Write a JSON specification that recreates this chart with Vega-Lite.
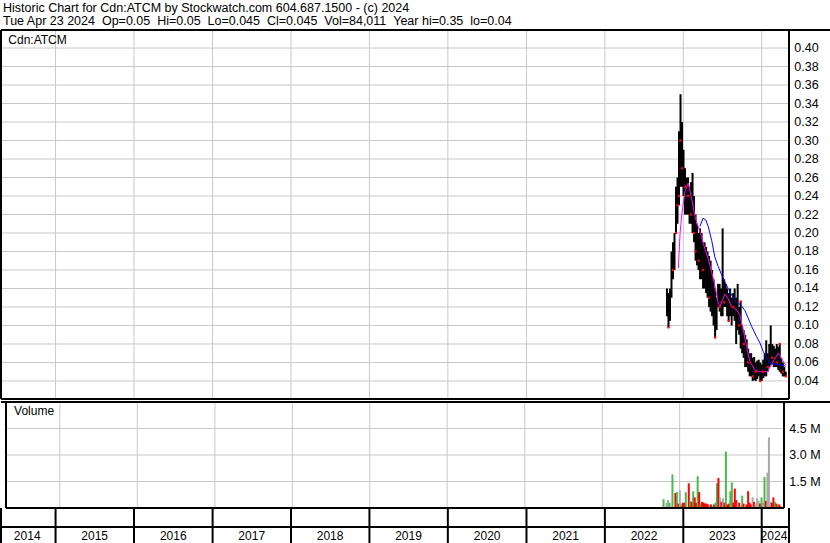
{
  "$schema": "https://vega.github.io/schema/vega-lite/v6.json",
  "background": "white",
  "padding": {"left": 0, "top": 1, "right": 0, "bottom": 0},
  "bounds": "flush",
  "title": {
    "text": ["Historic Chart for Cdn:ATCM by Stockwatch.com 604.687.1500 - (c) 2024", "Tue Apr 23 2024 \u00a0Op=0.05 \u00a0Hi=0.05 \u00a0Lo=0.045 \u00a0Cl=0.045 \u00a0Vol=84,011 \u00a0Year hi=0.35 \u00a0lo=0.04"],
    "anchor": "start", "font": "Liberation Sans", "fontSize": 12.5, "fontWeight": "normal", "color": "black", "lineHeight": 13, "offset": 2, "dx": 3
  },
  "config": {
    "view": {"stroke": null},
    "text": {"font": "Liberation Sans", "fontSize": 12, "color": "black"}
  },
  "datasets": {
    "bounds": [
      {"d":"2015-01-01"},{"d":"2016-01-01"},{"d":"2017-01-01"},{"d":"2018-01-01"},{"d":"2019-01-01"},
      {"d":"2020-01-01"},{"d":"2021-01-01"},{"d":"2022-01-01"},{"d":"2023-01-01"},{"d":"2024-01-01"}
    ],
    "pgrid": [
      {"p":0.04},{"p":0.06},{"p":0.08},{"p":0.10},{"p":0.12},{"p":0.14},{"p":0.16},{"p":0.18},{"p":0.20},{"p":0.22},
      {"p":0.24},{"p":0.26},{"p":0.28},{"p":0.30},{"p":0.32},{"p":0.34},{"p":0.36},{"p":0.38},{"p":0.40}
    ],
    "vgrid": [
      {"v":1500000,"lab":"1.5 M"},{"v":3000000,"lab":"3.0 M"},{"v":4500000,"lab":"4.5 M"}
    ],
    "bars": [
      {"d":"2022-10-17","h":0.14,"l":0.11},{"d":"2022-10-24","h":0.135,"l":0.098},{"d":"2022-10-31","h":0.14,"l":0.105},{"d":"2022-11-07","h":0.18,"l":0.13},
      {"d":"2022-11-14","h":0.19,"l":0.15},{"d":"2022-11-21","h":0.2,"l":0.16},{"d":"2022-11-28","h":0.25,"l":0.2},{"d":"2022-12-05","h":0.26,"l":0.21},
      {"d":"2022-12-12","h":0.31,"l":0.23},{"d":"2022-12-19","h":0.35,"l":0.25},{"d":"2022-12-26","h":0.32,"l":0.25},{"d":"2023-01-02","h":0.29,"l":0.24},
      {"d":"2023-01-09","h":0.27,"l":0.22},{"d":"2023-01-16","h":0.26,"l":0.22},{"d":"2023-01-23","h":0.26,"l":0.22},{"d":"2023-01-30","h":0.25,"l":0.21},
      {"d":"2023-02-06","h":0.255,"l":0.21},{"d":"2023-02-13","h":0.265,"l":0.2},{"d":"2023-02-20","h":0.24,"l":0.19},{"d":"2023-02-27","h":0.22,"l":0.17},
      {"d":"2023-03-06","h":0.21,"l":0.165},{"d":"2023-03-13","h":0.2,"l":0.16},{"d":"2023-03-20","h":0.205,"l":0.15},{"d":"2023-03-27","h":0.2,"l":0.15},
      {"d":"2023-04-03","h":0.19,"l":0.14},{"d":"2023-04-10","h":0.19,"l":0.14},{"d":"2023-04-17","h":0.185,"l":0.135},{"d":"2023-04-24","h":0.18,"l":0.13},
      {"d":"2023-05-01","h":0.175,"l":0.12},{"d":"2023-05-08","h":0.17,"l":0.115},{"d":"2023-05-15","h":0.16,"l":0.11},{"d":"2023-05-22","h":0.15,"l":0.1},
      {"d":"2023-05-29","h":0.14,"l":0.087},{"d":"2023-06-05","h":0.13,"l":0.095},{"d":"2023-06-12","h":0.145,"l":0.12},{"d":"2023-06-19","h":0.145,"l":0.115},
      {"d":"2023-06-26","h":0.14,"l":0.11},{"d":"2023-07-03","h":0.205,"l":0.11},{"d":"2023-07-10","h":0.15,"l":0.12},{"d":"2023-07-17","h":0.145,"l":0.12},
      {"d":"2023-07-24","h":0.14,"l":0.11},{"d":"2023-07-31","h":0.135,"l":0.105},{"d":"2023-08-07","h":0.14,"l":0.11},{"d":"2023-08-14","h":0.13,"l":0.1},
      {"d":"2023-08-21","h":0.135,"l":0.11},{"d":"2023-08-28","h":0.14,"l":0.105},{"d":"2023-09-04","h":0.13,"l":0.08},{"d":"2023-09-11","h":0.145,"l":0.095},
      {"d":"2023-09-18","h":0.12,"l":0.09},{"d":"2023-09-25","h":0.126,"l":0.075},{"d":"2023-10-02","h":0.1,"l":0.07},{"d":"2023-10-09","h":0.095,"l":0.065},
      {"d":"2023-10-16","h":0.09,"l":0.055},{"d":"2023-10-23","h":0.085,"l":0.055},{"d":"2023-10-30","h":0.075,"l":0.05},{"d":"2023-11-06","h":0.07,"l":0.045},
      {"d":"2023-11-13","h":0.07,"l":0.045},{"d":"2023-11-20","h":0.065,"l":0.04},{"d":"2023-11-27","h":0.066,"l":0.041},{"d":"2023-12-04","h":0.06,"l":0.04},
      {"d":"2023-12-11","h":0.062,"l":0.042},{"d":"2023-12-18","h":0.063,"l":0.045},{"d":"2023-12-25","h":0.06,"l":0.04},{"d":"2024-01-01","h":0.058,"l":0.04},
      {"d":"2024-01-08","h":0.063,"l":0.043},{"d":"2024-01-15","h":0.07,"l":0.045},{"d":"2024-01-22","h":0.084,"l":0.045},{"d":"2024-01-29","h":0.07,"l":0.05},
      {"d":"2024-02-05","h":0.08,"l":0.055},{"d":"2024-02-12","h":0.1,"l":0.057},{"d":"2024-02-19","h":0.08,"l":0.058},{"d":"2024-02-26","h":0.078,"l":0.055},
      {"d":"2024-03-04","h":0.075,"l":0.055},{"d":"2024-03-11","h":0.08,"l":0.055},{"d":"2024-03-18","h":0.077,"l":0.052},{"d":"2024-03-25","h":0.08,"l":0.05},
      {"d":"2024-04-01","h":0.065,"l":0.048},{"d":"2024-04-08","h":0.06,"l":0.045},{"d":"2024-04-15","h":0.055,"l":0.045},{"d":"2024-04-22","h":0.05,"l":0.045}
    ],
    "closes": [
      {"d":"2022-10-24","c":0.098},{"d":"2022-11-14","c":0.16},{"d":"2022-11-28","c":0.2},{"d":"2022-12-05","c":0.23},{"d":"2022-12-12","c":0.24},
      {"d":"2022-12-19","c":0.3},{"d":"2022-12-26","c":0.27},{"d":"2023-01-09","c":0.25},{"d":"2023-01-23","c":0.24},{"d":"2023-02-06","c":0.22},
      {"d":"2023-02-20","c":0.2},{"d":"2023-02-27","c":0.18},{"d":"2023-03-13","c":0.17},{"d":"2023-04-03","c":0.16},{"d":"2023-05-01","c":0.13},
      {"d":"2023-05-29","c":0.087},{"d":"2023-06-19","c":0.12},{"d":"2023-07-10","c":0.125},{"d":"2023-07-31","c":0.105},{"d":"2023-08-21","c":0.12},
      {"d":"2023-09-18","c":0.1},{"d":"2023-09-25","c":0.126},{"d":"2023-10-09","c":0.08},{"d":"2023-10-30","c":0.06},{"d":"2023-11-20","c":0.045},
      {"d":"2023-12-04","c":0.05},{"d":"2023-12-25","c":0.04},{"d":"2024-01-08","c":0.05},{"d":"2024-01-29","c":0.055},{"d":"2024-02-19","c":0.065},
      {"d":"2024-03-11","c":0.06},{"d":"2024-03-25","c":0.08},{"d":"2024-04-08","c":0.05},{"d":"2024-04-22","c":0.045}
    ],
    "ma20": [
      {"d":"2022-12-09","v":0.162},{"d":"2022-12-17","v":0.2},{"d":"2022-12-25","v":0.22},{"d":"2023-01-09","v":0.245},{"d":"2023-01-24","v":0.254},
      {"d":"2023-02-09","v":0.237},{"d":"2023-02-24","v":0.218},{"d":"2023-03-11","v":0.207},{"d":"2023-03-27","v":0.196},{"d":"2023-04-11","v":0.183},
      {"d":"2023-04-27","v":0.172},{"d":"2023-05-13","v":0.158},{"d":"2023-05-28","v":0.143},{"d":"2023-06-12","v":0.125},{"d":"2023-06-20","v":0.12},
      {"d":"2023-07-03","v":0.128},{"d":"2023-07-14","v":0.134},{"d":"2023-07-29","v":0.129},{"d":"2023-08-14","v":0.12},{"d":"2023-08-28","v":0.118},
      {"d":"2023-09-06","v":0.117},{"d":"2023-09-22","v":0.111},{"d":"2023-10-07","v":0.095},{"d":"2023-10-23","v":0.077},{"d":"2023-11-07","v":0.061},
      {"d":"2023-11-30","v":0.052},{"d":"2023-12-20","v":0.05},{"d":"2024-01-28","v":0.05},{"d":"2024-02-13","v":0.057},{"d":"2024-03-07","v":0.066},
      {"d":"2024-03-19","v":0.07},{"d":"2024-03-31","v":0.065},{"d":"2024-04-22","v":0.057}
    ],
    "ma50": [
      {"d":"2023-03-19","v":0.207},{"d":"2023-04-03","v":0.216},{"d":"2023-04-16","v":0.214},{"d":"2023-04-27","v":0.207},{"d":"2023-05-13","v":0.192},
      {"d":"2023-05-28","v":0.174},{"d":"2023-06-12","v":0.164},{"d":"2023-06-28","v":0.155},{"d":"2023-07-14","v":0.147},{"d":"2023-07-29","v":0.14},
      {"d":"2023-08-14","v":0.133},{"d":"2023-08-29","v":0.127},{"d":"2023-09-14","v":0.124},{"d":"2023-09-30","v":0.121},{"d":"2023-10-15","v":0.116},
      {"d":"2023-10-30","v":0.108},{"d":"2023-11-15","v":0.099},{"d":"2023-12-08","v":0.088},{"d":"2023-12-24","v":0.081},{"d":"2024-01-08","v":0.072},
      {"d":"2024-01-24","v":0.065},{"d":"2024-02-08","v":0.059},{"d":"2024-03-10","v":0.058},{"d":"2024-04-22","v":0.056}
    ],
    "vol": [
      {"d":"2022-10-17","v":500000,"dir":"up"},{"d":"2022-10-31","v":300000,"dir":"unch"},{"d":"2022-11-07","v":450000,"dir":"unch"},{"d":"2022-11-14","v":300000,"dir":"up"},
      {"d":"2022-11-28","v":1900000,"dir":"up"},{"d":"2022-12-12","v":850000,"dir":"down"},{"d":"2022-12-19","v":900000,"dir":"up"},{"d":"2022-12-26","v":250000,"dir":"down"},
      {"d":"2023-01-02","v":1000000,"dir":"unch"},{"d":"2023-01-09","v":200000,"dir":"up"},{"d":"2023-01-16","v":300000,"dir":"down"},{"d":"2023-01-23","v":300000,"dir":"down"},
      {"d":"2023-01-30","v":900000,"dir":"up"},{"d":"2023-02-13","v":1400000,"dir":"down"},{"d":"2023-02-20","v":400000,"dir":"up"},{"d":"2023-02-27","v":350000,"dir":"down"},
      {"d":"2023-03-06","v":950000,"dir":"up"},{"d":"2023-03-13","v":600000,"dir":"down"},{"d":"2023-03-20","v":300000,"dir":"down"},{"d":"2023-03-27","v":1800000,"dir":"up"},
      {"d":"2023-04-03","v":900000,"dir":"down"},{"d":"2023-04-10","v":250000,"dir":"up"},{"d":"2023-04-17","v":350000,"dir":"down"},{"d":"2023-04-24","v":300000,"dir":"down"},
      {"d":"2023-05-01","v":250000,"dir":"down"},{"d":"2023-05-08","v":250000,"dir":"down"},{"d":"2023-05-15","v":200000,"dir":"down"},{"d":"2023-05-22","v":150000,"dir":"unch"},
      {"d":"2023-05-29","v":200000,"dir":"down"},{"d":"2023-06-05","v":100000,"dir":"unch"},{"d":"2023-06-12","v":200000,"dir":"down"},{"d":"2023-06-19","v":300000,"dir":"up"},
      {"d":"2023-06-26","v":1400000,"dir":"up"},{"d":"2023-07-03","v":1700000,"dir":"down"},{"d":"2023-07-10","v":600000,"dir":"unch"},{"d":"2023-07-17","v":350000,"dir":"down"},
      {"d":"2023-07-24","v":550000,"dir":"unch"},{"d":"2023-07-31","v":300000,"dir":"down"},{"d":"2023-08-07","v":3200000,"dir":"up"},{"d":"2023-08-14","v":200000,"dir":"down"},
      {"d":"2023-08-21","v":250000,"dir":"down"},{"d":"2023-08-28","v":950000,"dir":"up"},{"d":"2023-09-04","v":1450000,"dir":"up"},{"d":"2023-09-11","v":300000,"dir":"down"},
      {"d":"2023-09-18","v":1100000,"dir":"down"},{"d":"2023-09-25","v":450000,"dir":"down"},{"d":"2023-10-02","v":300000,"dir":"unch"},{"d":"2023-10-09","v":300000,"dir":"down"},
      {"d":"2023-10-16","v":150000,"dir":"unch"},{"d":"2023-10-23","v":700000,"dir":"up"},{"d":"2023-10-30","v":250000,"dir":"down"},{"d":"2023-11-06","v":200000,"dir":"unch"},
      {"d":"2023-11-13","v":200000,"dir":"down"},{"d":"2023-11-20","v":950000,"dir":"down"},{"d":"2023-11-27","v":300000,"dir":"down"},{"d":"2023-12-04","v":200000,"dir":"down"},
      {"d":"2023-12-11","v":600000,"dir":"unch"},{"d":"2023-12-18","v":350000,"dir":"down"},{"d":"2023-12-25","v":200000,"dir":"unch"},{"d":"2024-01-01","v":550000,"dir":"unch"},
      {"d":"2024-01-08","v":400000,"dir":"unch"},{"d":"2024-01-15","v":250000,"dir":"down"},{"d":"2024-01-22","v":600000,"dir":"up"},{"d":"2024-01-29","v":300000,"dir":"unch"},
      {"d":"2024-02-05","v":1750000,"dir":"up"},{"d":"2024-02-12","v":400000,"dir":"down"},{"d":"2024-02-19","v":2000000,"dir":"unch"},{"d":"2024-02-26","v":4000000,"dir":"unch"},
      {"d":"2024-03-04","v":350000,"dir":"unch"},{"d":"2024-03-11","v":300000,"dir":"down"},{"d":"2024-03-18","v":600000,"dir":"down"},{"d":"2024-03-25","v":350000,"dir":"up"},
      {"d":"2024-04-01","v":250000,"dir":"down"},{"d":"2024-04-08","v":200000,"dir":"up"},{"d":"2024-04-15","v":200000,"dir":"down"},{"d":"2024-04-22","v":84011,"dir":"down"}
    ],
    "years": [
      {"y":"2014","m":"2014-08-22"},{"y":"2015","m":"2015-07-02"},{"y":"2016","m":"2016-07-02"},{"y":"2017","m":"2017-07-02"},{"y":"2018","m":"2018-07-02"},
      {"y":"2019","m":"2019-07-02"},{"y":"2020","m":"2020-07-02"},{"y":"2021","m":"2021-07-02"},{"y":"2022","m":"2022-07-02"},{"y":"2023","m":"2023-07-02"},
      {"y":"2024","m":"2024-02-27"}
    ]
  },
  "spacing": 3,
  "vconcat": [
    {
      "width": 829, "height": 369,
      "encoding": {
        "x": {"type": "temporal", "scale": {"domain": [{"year":2014,"month":4,"date":22},{"year":2024,"month":5,"date":7}], "range": [0, 788]}, "axis": null},
        "y": {"type": "quantitative", "scale": {"domain": [0.0205, 0.4195], "nice": false, "zero": false}, "axis": null}
      },
      "layer": [
        {
          "data": {"name": "bounds"},
          "mark": {"type": "rule", "color": "#c8c8c8", "strokeWidth": 1},
          "encoding": {"x": {"field": "d", "type": "temporal"}, "y": null}
        },
        {
          "data": {"name": "pgrid"},
          "mark": {"type": "rule", "color": "#c8c8c8", "strokeWidth": 1},
          "encoding": {
            "x": {"datum": {"year":2014,"month":4,"date":22}, "type": "temporal"},
            "x2": {"datum": {"year":2024,"month":5,"date":7}},
            "y": {"field": "p", "type": "quantitative"}
          }
        },
        {
          "data": {"name": "pgrid"},
          "mark": {"type": "text", "align": "left", "baseline": "middle", "fontSize": 12.5},
          "encoding": {
            "x": {"datum": {"year":2024,"month":6,"date":1}, "type": "temporal"},
            "y": {"field": "p", "type": "quantitative"},
            "text": {"field": "p", "type": "quantitative", "format": ".2f"}
          }
        },
        {
          "data": {"name": "bars"},
          "mark": {"type": "rule", "color": "black", "strokeWidth": 2},
          "encoding": {"x": {"field": "d", "type": "temporal"}, "y": {"field": "l", "type": "quantitative"}, "y2": {"field": "h"}}
        },
        {
          "data": {"name": "ma20"},
          "mark": {"type": "line", "color": "#ff00ff", "strokeWidth": 1},
          "encoding": {"x": {"field": "d", "type": "temporal"}, "y": {"field": "v", "type": "quantitative"}}
        },
        {
          "data": {"name": "ma50"},
          "mark": {"type": "line", "color": "#0000ff", "strokeWidth": 1},
          "encoding": {"x": {"field": "d", "type": "temporal"}, "y": {"field": "v", "type": "quantitative"}}
        },
        {
          "data": {"name": "closes"},
          "mark": {"type": "square", "color": "#ff0000", "filled": true, "opacity": 1, "size": 5},
          "encoding": {"x": {"field": "d", "type": "temporal"}, "y": {"field": "c", "type": "quantitative"}}
        },
        {
          "data": {"values": [{}]},
          "mark": {"type": "text", "text": "Cdn:ATCM", "align": "left", "baseline": "top"},
          "encoding": {"x": {"datum": {"year":2014,"month":5,"date":26}, "type": "temporal"}, "y": {"datum": 0.4146, "type": "quantitative"}}
        },
        {
          "data": {"values": [{}]},
          "mark": {"type": "rule", "color": "black", "strokeWidth": 2},
          "encoding": {"x": null, "y": {"datum": 0.4195, "type": "quantitative"}}
        },
        {
          "data": {"values": [{}]},
          "mark": {"type": "rule", "color": "black", "strokeWidth": 2},
          "encoding": {
            "x": {"datum": {"year":2014,"month":4,"date":22}, "type": "temporal"},
            "x2": {"datum": {"year":2024,"month":5,"date":7}},
            "y": {"datum": 0.0205, "type": "quantitative"}
          }
        },
        {
          "data": {"values": [{"d": "2014-04-22"}, {"d": "2024-05-07"}]},
          "mark": {"type": "rule", "color": "black", "strokeWidth": 2},
          "encoding": {"x": {"field": "d", "type": "temporal"}, "y": null}
        }
      ]
    },
    {
      "spacing": 0,
      "bounds": "flush",
      "vconcat": [
        {
          "width": 829, "height": 106,
          "encoding": {
            "x": {"type": "temporal", "scale": {"domain": [{"year":2014,"month":4,"date":22},{"year":2024,"month":5,"date":7}], "range": [0, 788]}, "axis": null},
            "y": {"type": "quantitative", "scale": {"domain": [0, 6000000], "nice": false}, "axis": null}
          },
          "layer": [
            {
              "data": {"name": "bounds"},
              "mark": {"type": "rule", "color": "#c8c8c8", "strokeWidth": 1},
              "encoding": {"x": {"field": "d", "type": "temporal"}, "y": null}
            },
            {
              "data": {"name": "vgrid"},
              "mark": {"type": "rule", "color": "#c8c8c8", "strokeWidth": 1},
              "encoding": {
                "x": {"datum": {"year":2014,"month":4,"date":22}, "type": "temporal"},
                "x2": {"datum": {"year":2024,"month":5,"date":7}},
                "y": {"field": "v", "type": "quantitative"}
              }
            },
            {
              "data": {"name": "vgrid"},
              "mark": {"type": "text", "align": "left", "baseline": "middle", "fontSize": 12.5},
              "encoding": {
                "x": {"datum": {"year":2024,"month":6,"date":1}, "type": "temporal"},
                "y": {"field": "v", "type": "quantitative"},
                "text": {"field": "lab", "type": "nominal"}
              }
            },
            {
              "data": {"name": "vol"},
              "mark": {"type": "bar", "width": 2},
              "encoding": {
                "x": {"field": "d", "type": "temporal"},
                "y": {"field": "v", "type": "quantitative"},
                "color": {"field": "dir", "type": "nominal", "scale": {"domain": ["up", "down", "unch"], "range": ["#4cb84c", "#ff0000", "#a8a8a8"]}, "legend": null}
              }
            },
            {
              "data": {"values": [{}]},
              "mark": {"type": "text", "text": "Volume", "align": "left", "baseline": "top"},
              "encoding": {"x": {"datum": {"year":2014,"month":5,"date":30}, "type": "temporal"}, "y": {"datum": 5800000, "type": "quantitative"}}
            },
            {
              "data": {"values": [{}]},
              "mark": {"type": "rule", "color": "black", "strokeWidth": 2},
              "encoding": {"x": null, "y": {"datum": 6000000, "type": "quantitative"}}
            },
            {
              "data": {"values": [{}]},
              "mark": {"type": "rule", "color": "black", "strokeWidth": 2},
              "encoding": {
                "x": {"datum": {"year":2014,"month":4,"date":22}, "type": "temporal"},
                "x2": {"datum": {"year":2024,"month":5,"date":7}},
                "y": {"datum": 0, "type": "quantitative"}
              }
            },
            {
              "data": {"values": [{"d": "2014-04-22"}, {"d": "2024-05-07"}]},
              "mark": {"type": "rule", "color": "black", "strokeWidth": 2},
              "encoding": {"x": {"field": "d", "type": "temporal"}, "y": null}
            }
          ]
        },
        {
          "width": 829, "height": 35,
          "encoding": {
            "x": {"type": "temporal", "scale": {"domain": [{"year":2014,"month":4,"date":22},{"year":2024,"month":5,"date":7}], "range": [0, 788]}, "axis": null},
            "y": {"type": "quantitative", "scale": {"domain": [0, 35]}, "axis": null}
          },
          "layer": [
            {
              "data": {"values": [{"d":"2014-04-22"},{"d":"2015-01-01"},{"d":"2016-01-01"},{"d":"2017-01-01"},{"d":"2018-01-01"},{"d":"2019-01-01"},{"d":"2020-01-01"},{"d":"2021-01-01"},{"d":"2022-01-01"},{"d":"2023-01-01"},{"d":"2024-01-01"},{"d":"2024-05-07"}]},
              "mark": {"type": "rule", "color": "black", "strokeWidth": 2},
              "encoding": {"x": {"field": "d", "type": "temporal"}, "y": null}
            },
            {
              "data": {"values": [{}]},
              "mark": {"type": "rule", "color": "black", "strokeWidth": 2},
              "encoding": {
                "x": {"datum": {"year":2014,"month":4,"date":22}, "type": "temporal"},
                "x2": {"datum": {"year":2024,"month":5,"date":7}},
                "y": {"datum": 16, "type": "quantitative"}
              }
            },
            {
              "data": {"name": "years"},
              "mark": {"type": "text", "baseline": "alphabetic", "align": "center"},
              "encoding": {
                "x": {"field": "m", "type": "temporal"},
                "y": {"datum": 3.5, "type": "quantitative"},
                "text": {"field": "y", "type": "nominal"}
              }
            }
          ]
        }
      ]
    }
  ]
}
